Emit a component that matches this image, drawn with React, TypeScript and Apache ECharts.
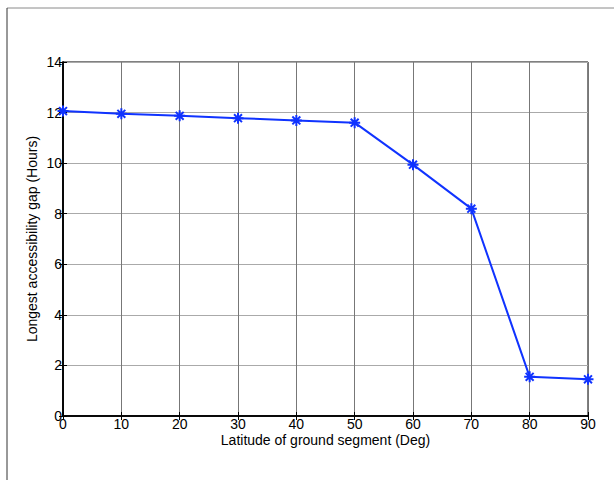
import React, { useEffect, useRef } from "react";
import * as echarts from "echarts";

const latitudes = [0, 10, 20, 30, 40, 50, 60, 70, 80, 90];
const gapHours = [12.06, 11.95, 11.87, 11.78, 11.69, 11.6, 9.94, 8.2, 1.55, 1.45];
const xLabel = "Latitude of ground segment (Deg)";
const yLabel = "Longest accessibility gap (Hours)";

const FONT = "Liberation Sans";
const asterisk = "path://M0,-5L0,5M-5,0L5,0M-3.6,-3.6L3.6,3.6M-3.6,3.6L3.6,-3.6";

export default function App() {
  const ref = useRef<HTMLDivElement>(null);
  useEffect(() => {
    if (!ref.current) return;
    const chart = echarts.init(ref.current, undefined, { renderer: "svg" });
    chart.setOption({
      animation: false,
      backgroundColor: "#fff",
      textStyle: { fontFamily: FONT, fontSize: 14, color: "#000" },
      graphic: [
        { type: "line", shape: { x1: 7, y1: 8, x2: 614, y2: 8 }, style: { stroke: "#8a8a8a", lineWidth: 1 } },
        { type: "line", shape: { x1: 7, y1: 8, x2: 7, y2: 480 }, style: { stroke: "#333", lineWidth: 1 } },
      ],
      grid: { left: 63, right: 26, top: 62, bottom: 64, show: true, borderColor: "#000", borderWidth: 1 },
      xAxis: [
        {
          type: "value", min: 0, max: 90, interval: 10, position: "bottom",
          name: xLabel, nameLocation: "middle", nameGap: 17, nameMoveOverlap: false,
          nameTextStyle: { color: "#000", fontFamily: FONT, fontSize: 14 },
          axisLine: { lineStyle: { color: "#000", width: 1.5 } },
          axisTick: { inside: true, length: 4, lineStyle: { color: "#000" } },
          axisLabel: { show: true, color: "#000", fontFamily: FONT, fontSize: 14, margin: 1 },
          splitLine: { show: true, lineStyle: { color: "#777", width: 1 } },
        },
        {
          type: "value", min: 0, max: 90, interval: 10, position: "top",
          axisLine: { lineStyle: { color: "#000", width: 1.5 } },
          axisTick: { inside: true, length: 4, lineStyle: { color: "#000" } },
          axisLabel: { show: false }, splitLine: { show: false },
        },
      ],
      yAxis: [
        {
          type: "value", min: 0, max: 14, interval: 2, position: "left",
          name: yLabel, nameLocation: "middle", nameGap: 24, nameMoveOverlap: false,
          nameTextStyle: { color: "#000", fontFamily: FONT, fontSize: 14 },
          axisLine: { show: true, lineStyle: { color: "#000", width: 1.5 } },
          axisTick: { show: true, inside: true, length: 4, lineStyle: { color: "#000" } },
          axisLabel: { show: true, color: "#000", fontFamily: FONT, fontSize: 14, margin: 1 },
          splitLine: { show: true, lineStyle: { color: "#aaa", width: 1 } },
        },
        {
          type: "value", min: 0, max: 14, interval: 2, position: "right",
          axisLine: { show: true, lineStyle: { color: "#000", width: 1.5 } },
          axisTick: { show: true, inside: true, length: 4, lineStyle: { color: "#000" } },
          axisLabel: { show: false }, splitLine: { show: false },
        },
      ],
      series: [
        {
          type: "line",
          data: latitudes.map((x, i) => [x, gapHours[i]]),
          lineStyle: { color: "#1033ff", width: 2 },
          symbol: asterisk,
          symbolSize: 11,
          itemStyle: { color: "rgba(0,0,0,0)", borderColor: "#1033ff", borderWidth: 2 },
          showSymbol: true,
        },
      ],
    });
    return () => chart.dispose();
  }, []);
  return <div ref={ref} style={{ width: 614, height: 480, position: "absolute", left: 0, top: 0 }} />;
}
